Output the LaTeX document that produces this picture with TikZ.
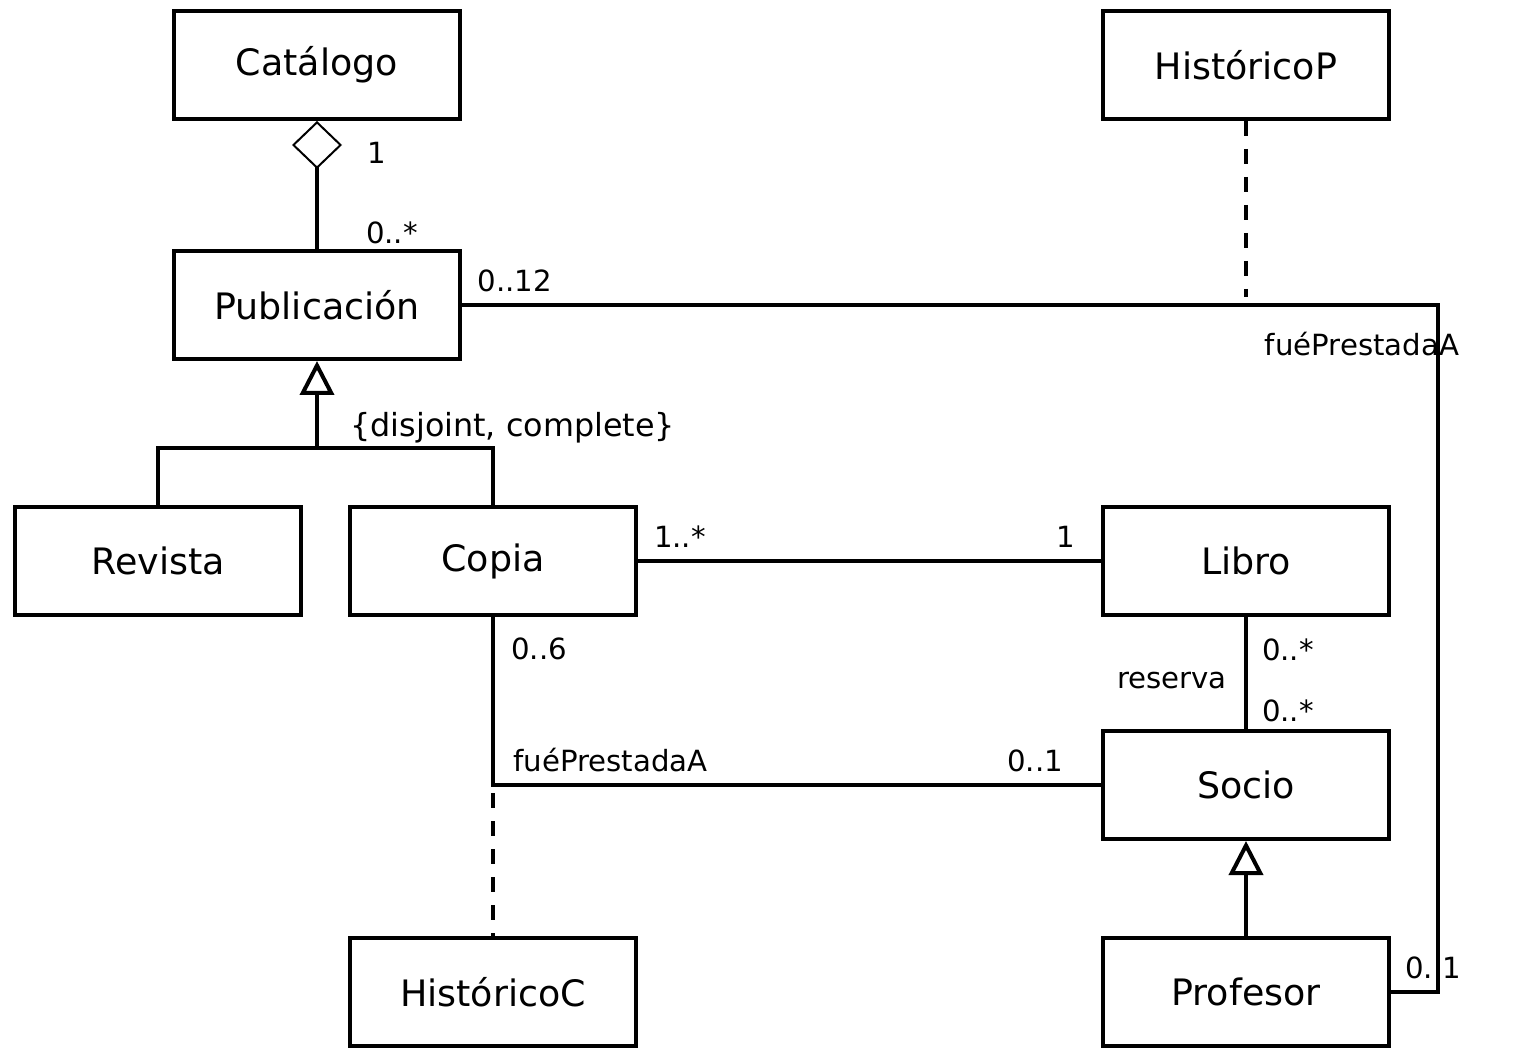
\documentclass[tikz,border=0pt]{standalone}
\usepackage{fontspec}
\setmainfont{DejaVu Sans}
\usetikzlibrary{arrows.meta}
\tikzset{
  cls/.style={draw, line width=2pt, minimum width=143pt, minimum height=54pt, inner sep=0pt, font=\fontsize{18.2}{21}\selectfont},
  lbl/.style={inner sep=0pt, font=\fontsize{14.6}{17}\selectfont},
  conn/.style={line width=2pt},
  dep/.style={line width=2pt, dash pattern=on 7.5pt off 6.5pt},
  gen/.style={{Triangle[open, length=17pt, width=17pt, fill=white]}-},
  agg/.style={{Diamond[open, length=24pt, width=25pt, fill=white, line width=1pt]}-},
}
\begin{document}
\begin{tikzpicture}[x=0.5pt, y=-0.5pt]
\useasboundingbox (0,0) rectangle (1538,1048);
% classes
\node[cls] (cat)  at (317,65)   {Catálogo};
\node[cls] (hisP) at (1246,65)  {HistóricoP};
\node[cls] (pub)  at (317,305)  {Publicación};
\node[cls] (rev)  at (158,561)  {Revista};
\node[cls] (cop)  at (493,561)  {Copia};
\node[cls] (lib)  at (1246,561) {Libro};
\node[cls] (soc)  at (1246,785) {Socio};
\node[cls] (hisC) at (493,992)  {HistóricoC};
\node[cls] (prof) at (1246,992) {Profesor};
% labels
\node[lbl] (l1)  at (377,153) {1};
\node[lbl] (l2)  at (392,233) {0..*};
\node[lbl] (l3)  at (515,281) {0..12};
\node[lbl] (l4)  at (1362,344) {fuéPrestadaA};
\node[lbl, anchor=west, font=\fontsize{15.9}{19}\selectfont] (l5) at (350,428) {\{disjoint, complete\}};
\node[lbl] (l6)  at (680,537) {1..*};
\node[lbl] (l7)  at (1066,537) {1};
\node[lbl] (l8)  at (1288,650) {0..*};
\node[lbl] (l9)  at (1172,681) {reserva};
\node[lbl] (l10) at (1288,711) {0..*};
\node[lbl] (l11) at (539,649) {0..6};
\node[lbl, anchor=west] (l12) at (513,760) {fuéPrestadaA};
\node[lbl] (l13) at (1035,761) {0..1};
\node[lbl] (l14) at (1433,968) {0..1};
% helper coordinates
\coordinate (gj) at (317,448);
\coordinate (pc) at (1438,305);
\coordinate (pm) at (1246,297);
\coordinate (cs) at (493,785);
\coordinate (cd) at (493,793);
% connectors
\draw[conn, agg] (cat.south) -- (pub.north);
\draw[conn, gen] (pub.south) -- (gj);
\draw[conn] (rev.north) |- (gj) -| (cop.north);
\draw[conn] (pub.east) -- (pc) |- (prof.east);
\draw[dep] (hisP.south) -- (pm);
\draw[conn] (cop.east) -- (lib.west);
\draw[conn] (lib.south) -- (soc.north);
\draw[conn] (cop.south) -- (cs) -- (soc.west);
\draw[dep] (cd) -- (hisC.north);
\draw[conn, gen] (soc.south) -- (prof.north);
\end{tikzpicture}
\end{document}
